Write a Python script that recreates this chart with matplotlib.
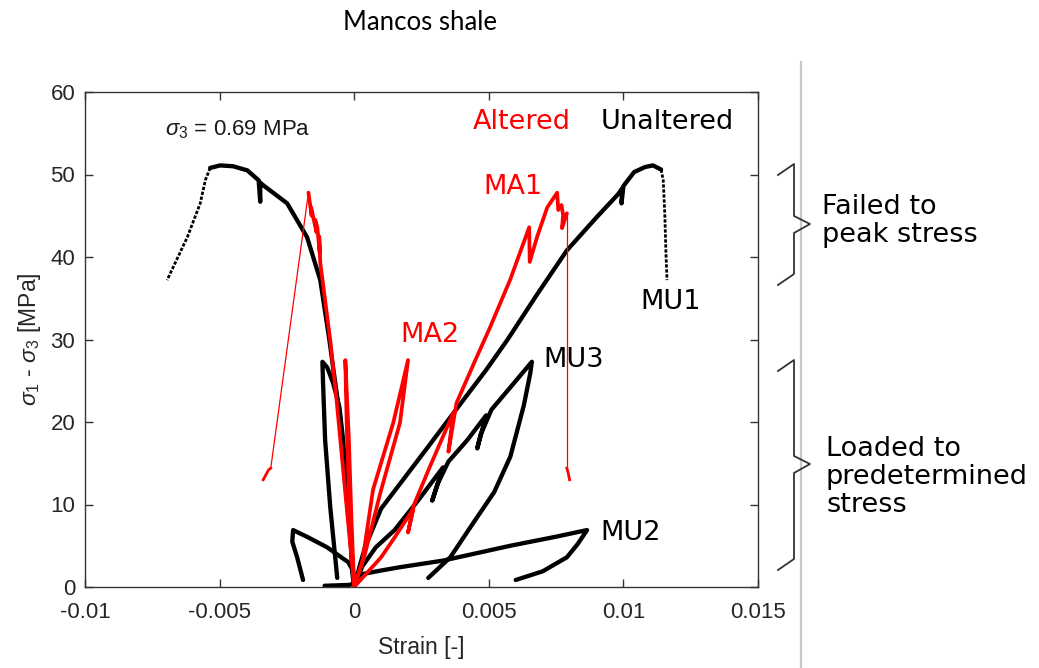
import matplotlib
matplotlib.use("Agg")
import matplotlib.pyplot as plt
from matplotlib.lines import Line2D

# ---------------- data (strain [-], stress [MPa]) ----------------
# MU1 (unaltered, failed)
mu1_ax_strain = [0, 0.0002, 0.0004, 0.0010, 0.0017, 0.0027, 0.0039, 0.0049, 0.0057, 0.0068,
                 0.0079, 0.0090, 0.0098, 0.00995, 0.00993, 0.0100, 0.0104, 0.0108, 0.0111, 0.0114]
mu1_ax_stress = [0, 2.5, 4.8, 9.5, 12.5, 16.8, 22.0, 26.3, 30.0, 35.5,
                 40.8, 44.8, 47.6, 48.3, 46.5, 48.6, 50.3, 50.9, 51.1, 50.6]
mu1_ax_post_strain = [0.0114, 0.01148, 0.01154, 0.01158, 0.01162]
mu1_ax_post_stress = [50.6, 49.3, 45.0, 40.5, 37.2]
mu1_rad_strain = [-0.0011, -0.0002, 0, -0.0001, -0.00026, -0.00052, -0.00078, -0.00092, -0.00126,
                  -0.00175, -0.00249, -0.00338, -0.00349, -0.00349, -0.00355, -0.00397, -0.0045,
                  -0.00498, -0.00535]
mu1_rad_stress = [0.15, 0.25, 0.4, 4.0, 11.0, 20.5, 26.5, 29.9, 37.2,
                  42.4, 46.5, 48.7, 49.0, 46.7, 49.3, 50.5, 51.0,
                  51.1, 50.8]
mu1_rad_post_strain = [-0.00535, -0.00553, -0.00572, -0.0062, -0.00695]
mu1_rad_post_stress = [50.8, 49.3, 46.5, 42.4, 37.2]

# MU2 (unaltered, loaded to ~7 MPa)
mu2_ax_strain = [0, 0.0002, 0.0010, 0.0017, 0.0033, 0.0058, 0.0075, 0.00865,
                 0.0083, 0.0079, 0.0070, 0.0060]
mu2_ax_stress = [0, 1.5, 2.0, 2.4, 3.2, 5.0, 6.1, 6.9,
                 5.2, 3.6, 1.9, 0.85]
mu2_rad_strain = [0, -0.00005, -0.00022, -0.0010, -0.0017, -0.00227,
                  -0.0023, -0.00212, -0.0019]
mu2_rad_stress = [0, 2.0, 3.0, 4.8, 6.0, 6.9,
                  5.5, 3.6, 0.85]

# MU3 (unaltered, loaded to ~27 MPa)
mu3_ax_strain = [0, 0.0003, 0.0008, 0.0015, 0.0024, 0.0033, 0.0029, 0.0031, 0.0035, 0.0042,
                 0.0049, 0.00457, 0.0047, 0.0051, 0.0058, 0.0066,
                 0.00654, 0.0063, 0.0058, 0.0052, 0.00443, 0.00357, 0.00275]
mu3_ax_stress = [0, 2.5, 4.8, 6.9, 10.6, 14.5, 10.5, 12.5, 15.2, 17.8,
                 20.8, 16.8, 18.5, 21.5, 24.2, 27.3,
                 25.9, 22.0, 15.8, 11.5, 7.8, 3.6, 1.1]
mu3_rad_strain = [0, -0.00007, -0.00015, -0.00028, -0.00041, -0.00055, -0.00078, -0.0010, -0.00118,
                  -0.00116, -0.00108, -0.00089, -0.00063]
mu3_rad_stress = [0, 1.7, 7.3, 11.8, 17.8, 21.8, 24.7, 26.6, 27.3,
                  25.0, 17.8, 9.7, 1.1]

# MA1 (altered, failed)
ma1_ax_strain = [0, 0.0005, 0.0010, 0.0015, 0.0022, 0.0020, 0.0022, 0.0028, 0.00368, 0.0035,
                 0.0038, 0.0045, 0.00505, 0.0058, 0.0065, 0.00652, 0.0068, 0.00717, 0.00754,
                 0.00758, 0.0077, 0.00776, 0.00772, 0.0079]
ma1_ax_stress = [0, 1.8, 3.6, 6.0, 9.5, 6.6, 9.8, 14.5, 21.1, 16.4,
                 22.3, 27.5, 31.5, 37.3, 43.6, 39.4, 42.5, 46.0, 47.8,
                 45.7, 46.3, 45.1, 43.5, 45.3]
ma1_ax_drop_strain = [0.0079, 0.0079]
ma1_ax_drop_stress = [45.3, 14.4]
ma1_ax_tail_strain = [0.0079, 0.00795, 0.0080]
ma1_ax_tail_stress = [14.4, 13.8, 13.0]
ma1_rad_strain = [0, -0.0001, -0.0004, -0.00065, -0.00089, -0.00126, -0.0013, -0.00128, -0.00137,
                  -0.00145, -0.0014, -0.0016, -0.00158, -0.0017]
ma1_rad_stress = [0, 3.5, 13.8, 22.5, 29.9, 39.3, 42.5, 40.5, 43.6,
                  44.5, 43.0, 46.0, 45.0, 47.8]
ma1_rad_drop_strain = [-0.0017, -0.0031]
ma1_rad_drop_stress = [47.8, 14.4]
ma1_rad_tail_strain = [-0.0031, -0.00318, -0.00338]
ma1_rad_tail_stress = [14.4, 14.2, 13.0]

# MA2 (altered, loaded to ~27 MPa)
ma2_ax_strain = [0, 0.0003, 0.0007, 0.00145, 0.0020, 0.0017, 0.00097, 0.0004, 0]
ma2_ax_stress = [0, 3.0, 11.8, 19.9, 27.5, 19.9, 11.4, 4.0, 0]
ma2_rad_strain = [0, -0.0001, -0.0002, -0.00033, -0.00028, -0.0002, -0.00008, 0]
ma2_rad_stress = [0, 8.0, 18.0, 27.5, 20.0, 12.0, 4.0, 0]

x_ticks = [-0.01, -0.005, 0, 0.005, 0.01, 0.015]
x_tick_labels = ["-0.01", "-0.005", "0", "0.005", "0.01", "0.015"]
y_ticks = [0, 10, 20, 30, 40, 50, 60]

# ---------------- style ----------------
plt.rcParams['mathtext.fontset'] = 'custom'
plt.rcParams['mathtext.rm'] = 'Liberation Sans'
plt.rcParams['mathtext.it'] = 'Liberation Sans:italic'

W, H = 1039, 668
fig = plt.figure(figsize=(W / 100, H / 100), dpi=100)
ax = fig.add_axes([85 / W, 1 - 587 / H, 673 / W, 495 / H])

BLACK = 'black'
RED = '#ff0000'
lw_b = 3.1
lw_r = 2.7

def px(x, y):
    return x / W, 1 - y / H

# black curves
for xs, ys in [(mu1_ax_strain, mu1_ax_stress), (mu1_rad_strain, mu1_rad_stress),
               (mu2_ax_strain, mu2_ax_stress), (mu2_rad_strain, mu2_rad_stress),
               (mu3_ax_strain, mu3_ax_stress), (mu3_rad_strain, mu3_rad_stress)]:
    ax.plot(xs, ys, color=BLACK, lw=lw_b, solid_joinstyle='round', solid_capstyle='round')
for xs, ys in [(mu1_ax_post_strain, mu1_ax_post_stress), (mu1_rad_post_strain, mu1_rad_post_stress)]:
    ax.plot(xs, ys, color=BLACK, lw=2.0, ls=(0, (1.2, 0.6)))

# red curves
for xs, ys in [(ma1_ax_strain, ma1_ax_stress), (ma1_rad_strain, ma1_rad_stress),
               (ma2_ax_strain, ma2_ax_stress), (ma2_rad_strain, ma2_rad_stress)]:
    ax.plot(xs, ys, color=RED, lw=lw_r, solid_joinstyle='round', solid_capstyle='round')
for xs, ys in [(ma1_ax_drop_strain, ma1_ax_drop_stress), (ma1_rad_drop_strain, ma1_rad_drop_stress)]:
    ax.plot(xs, ys, color=RED, lw=0.9)
for xs, ys in [(ma1_ax_tail_strain, ma1_ax_tail_stress), (ma1_rad_tail_strain, ma1_rad_tail_stress)]:
    ax.plot(xs, ys, color=RED, lw=2.0)

ax.set_xlim(-0.01, 0.015)
ax.set_ylim(0, 60)
ax.set_xticks(x_ticks)
ax.set_xticklabels(x_tick_labels)
ax.set_yticks(y_ticks)
axis_col = '#333333'
for s in ax.spines.values():
    s.set_color(axis_col)
    s.set_linewidth(1.0)
ax.tick_params(direction='in', length=6, width=1.0, colors=axis_col, labelcolor='#262626',
               top=True, right=True, labelsize=16)
ax.tick_params(axis='x', pad=11)
ax.tick_params(axis='y', pad=7)
for lab in ax.get_xticklabels() + ax.get_yticklabels():
    lab.set_fontfamily('Liberation Sans')

ax.set_xlabel('Strain [-]', fontsize=16.5, family='Liberation Sans', color='#262626', labelpad=9)
ax.set_ylabel(r'$\sigma_1$ - $\sigma_3$ [MPa]', fontsize=16.5, family='Liberation Sans',
              color='#262626', labelpad=5)

# in-plot annotations
ax.text(-0.00702, 55.4, r'$\sigma_3$ = 0.69 MPa', fontsize=16, family='Liberation Sans',
        color='#1a1a1a', va='center', ha='left')
ax.text(0.00442, 56.4, 'Altered', fontsize=19.5, family='DejaVu Sans', color=RED, va='center')
ax.text(0.00914, 56.4, 'Unaltered', fontsize=19.5, family='DejaVu Sans', color=BLACK, va='center')
ax.text(0.00479, 48.5, 'MA1', fontsize=19.5, family='DejaVu Sans', color=RED, va='center')
ax.text(0.00171, 30.5, 'MA2', fontsize=19.5, family='DejaVu Sans', color=RED, va='center')
ax.text(0.00702, 27.5, 'MU3', fontsize=19.5, family='DejaVu Sans', color=BLACK, va='center')
ax.text(0.00914, 6.5, 'MU2', fontsize=19.5, family='DejaVu Sans', color=BLACK, va='center')
ax.text(0.01062, 34.5, 'MU1', fontsize=19.5, family='DejaVu Sans', color=BLACK, va='center')

# title
fig.text(420 / W, 1 - 22 / H, 'Mancos shale', fontsize=18.5, family='Lato', ha='center', va='center')

# gray separator
x0, y0 = px(801, 62)
x1, y1 = px(801, 668)
fig.add_artist(Line2D([x0, x1], [y0, y1], color='#c8c8c8', lw=1.6))

# braces
def brace(top, tip, bottom):
    pts = [(778, top + 11), (794, top), (794, tip - 8), (810, tip), (794, tip + 9),
           (794, bottom - 11), (778, bottom)]
    xs = [p[0] / W for p in pts]
    ys = [1 - p[1] / H for p in pts]
    fig.add_artist(Line2D(xs, ys, color='#333333', lw=1.3))

brace(164, 224, 285)
brace(360, 464, 570)

fig.text(822 / W, 1 - 221 / H, 'Failed to\npeak stress', fontsize=19.5, family='DejaVu Sans',
         va='center', ha='left', linespacing=1.1)
fig.text(826 / W, 1 - 477 / H, 'Loaded to\npredetermined\nstress', fontsize=19.5,
         family='DejaVu Sans', va='center', ha='left', linespacing=1.1)

fig.savefig('out.png', dpi=100)
